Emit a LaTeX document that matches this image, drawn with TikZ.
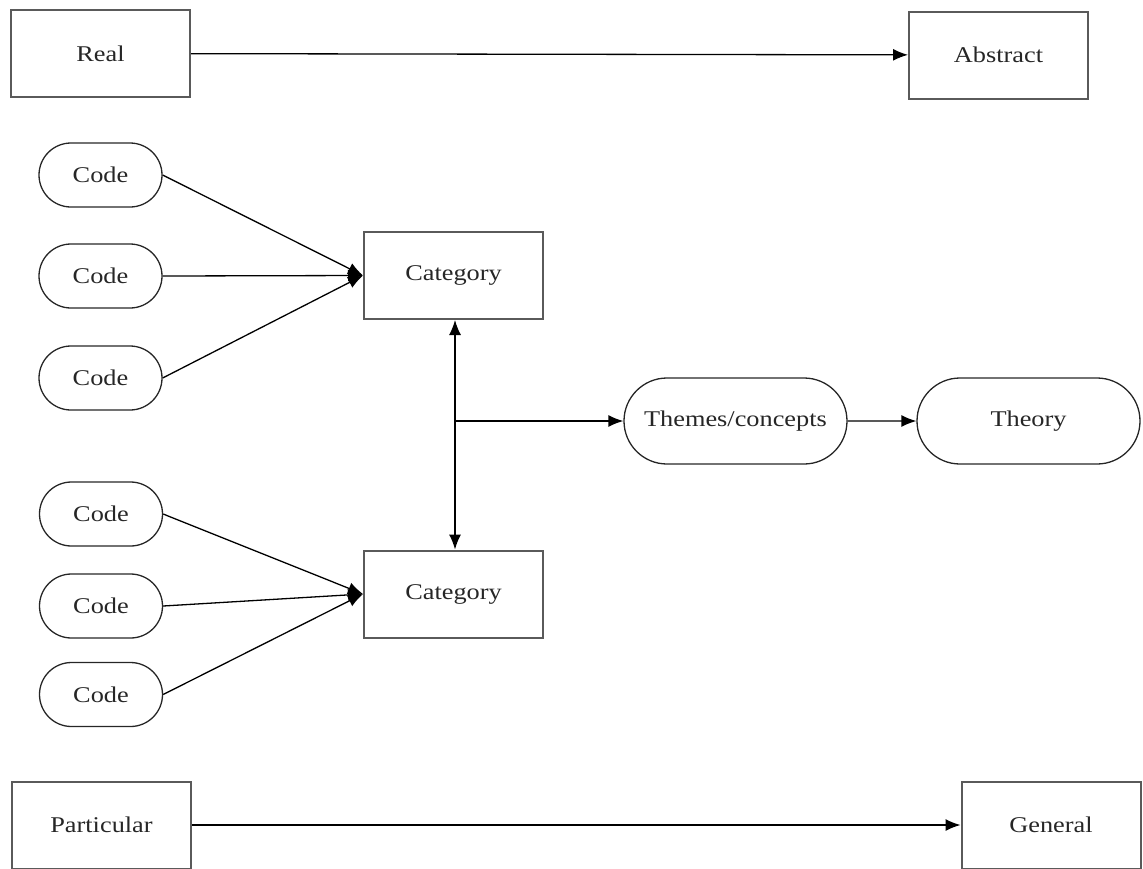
\documentclass[tikz,border=0pt]{standalone}
\usepackage{fontspec}
\setmainfont{Liberation Serif}[FakeStretch=1.17]
\usetikzlibrary{arrows.meta,shapes.misc}
\definecolor{boxline}{HTML}{5A5A5A}
\definecolor{txt}{HTML}{262626}
\tikzset{
  every node/.style={font=\fontsize{22.5}{26}\selectfont, text=txt},
  rbox/.style={draw=boxline, line width=2pt, minimum width=179pt, minimum height=87pt, inner sep=0pt},
  pill/.style={draw=black!85, line width=1.3pt, rounded rectangle, inner sep=0pt},
  codepill/.style={pill, minimum width=123pt, minimum height=64pt},
  bigpill/.style={pill, minimum width=223pt, minimum height=86pt},
  conn/.style={draw=black, line width=1.3pt},
  arr/.style={conn, -{Latex[length=15pt,width=12pt]}},
  darr/.style={conn, {Latex[length=15pt,width=12pt]}-{Latex[length=15pt,width=12pt]}},
}
\begin{document}
\begin{tikzpicture}[x=1pt,y=-1pt]
\useasboundingbox (0,0) rectangle (1143,868);
\node[rbox] (real) at (100.5,53.5) {Real};
\node[rbox] (abstract) at (998.5,55) {Abstract};
\node[codepill] (c1) at (100.5,175) {Code};
\node[codepill] (c2) at (100.5,276) {Code};
\node[codepill] (c3) at (100.5,378) {Code};
\node[codepill] (c4) at (101,514) {Code};
\node[codepill] (c5) at (101,606) {Code};
\node[codepill] (c6) at (101,694.5) {Code};
\node[rbox] (cat1) at (453.5,275.5) {Category};
\node[rbox] (cat2) at (453.5,594) {Category};
\node[bigpill] (themes) at (735.5,421) {Themes/concepts};
\node[bigpill] (theory) at (1028.5,421) {Theory};
\node[rbox] (part) at (101.5,825) {Particular};
\node[rbox] (gen) at (1051,825) {General};
\draw[arr] (real) -- (abstract);
\draw[arr] (part) -- (gen);
\draw[arr] (c1.east) -- (cat1.west);
\draw[arr] (c2.east) -- (cat1.west);
\draw[arr] (c3.east) -- (cat1.west);
\draw[arr] (c4.east) -- (cat2.west);
\draw[arr] (c5.east) -- (cat2.west);
\draw[arr] (c6.east) -- (cat2.west);
\draw[darr] ([xshift=1.5pt]cat1.south) -- ([xshift=1.5pt]cat2.north);
\coordinate (j) at ([xshift=1.5pt]cat1.south |- themes.west);
\draw[arr] (j) -- (themes);
\draw[arr] (themes) -- (theory);
\end{tikzpicture}
\end{document}
